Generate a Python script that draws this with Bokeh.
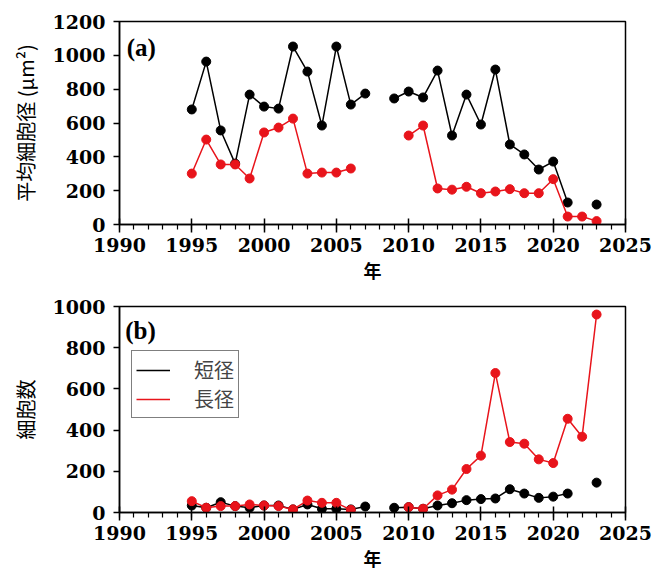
import math
from bokeh.plotting import figure
from bokeh.layouts import column
from bokeh.models import SingleIntervalTicker, Label, Legend, LegendItem, Range1d
from bokeh.embed import file_html
from bokeh.resources import INLINE

nan = float("nan")

years = list(range(1995, 2024))

# (a) mean cell size (μm²)
short_size = [680, 963, 556, 360, 768, 697, 685, 1052, 904, 585, 1052, 709, 774, nan,
              745, 786, 751, 910, 526, 768, 591, 916, 473, 414, 325, 372, 130, nan, 118]
long_size = [301, 502, 355, 355, 272, 544, 573, 626, 301, 307, 307, 331, nan, nan,
             nan, 526, 585, 213, 206, 223, 185, 195, 209, 185, 185, 268, 47, 47, 20]

# (b) cell counts
short_count = [34, 23, 50, 31, 23, 34, 34, 15, 39, 18, 18, 15, 29, nan,
               23, 26, 18, 34, 45, 60, 65, 68, 113, 92, 71, 77, 92, nan, 145]
long_count = [55, 23, 31, 31, 39, 34, 31, 15, 58, 47, 47, 13, nan, nan,
              nan, 26, 18, 83, 111, 211, 276, 677, 342, 334, 258, 240, 455, 368, 961]

x_label = "年"
y_label_a = "平均細胞径 (μm²)"
y_label_b = "細胞数"
legend_labels = ["短径", "長径"]

BLACK = "#000000"
RED = "#e8141b"
CJK = "Noto Sans CJK JP"
TICK_FONT = "DejaVu Serif"


def make_fig(height, ymax, ylabel, top, bottom):
    p = figure(width=658, height=height, output_backend="svg", toolbar_location=None,
               x_range=Range1d(1990, 2025), y_range=Range1d(0, ymax),
               min_border_left=119, min_border_right=33,
               min_border_top=top, min_border_bottom=bottom)
    p.xgrid.visible = False
    p.ygrid.visible = False
    p.outline_line_color = "black"
    p.outline_line_width = 1.5

    xa = p.xaxis[0]
    xa.ticker = SingleIntervalTicker(interval=5, num_minor_ticks=5)
    xa.major_tick_in = 6
    xa.major_tick_out = 8
    xa.minor_tick_in = 0
    xa.minor_tick_out = 5
    xa.axis_line_width = 1.5
    xa.major_tick_line_width = 1.5
    xa.minor_tick_line_width = 1.2
    xa.axis_label = x_label
    xa.axis_label_text_font = CJK
    xa.axis_label_text_font_style = "bold"
    xa.axis_label_text_font_size = "18px"
    xa.axis_label_text_color = "black"
    xa.major_label_standoff = 5
    xa.axis_label_standoff = 2

    ya = p.yaxis[0]
    ya.ticker = SingleIntervalTicker(interval=200, num_minor_ticks=0)
    ya.major_tick_in = 0
    ya.major_tick_out = 6
    ya.minor_tick_out = 0
    ya.axis_line_width = 1.5
    ya.major_tick_line_width = 1.5
    ya.axis_label = ylabel
    ya.axis_label_text_font = CJK
    ya.axis_label_text_font_style = "normal"
    ya.axis_label_text_font_size = "20px"
    ya.axis_label_text_color = "black"
    ya.major_label_standoff = 8
    ya.axis_label_standoff = 10

    for ax in (xa, ya):
        ax.major_label_text_font = TICK_FONT
        ax.major_label_text_font_style = "bold"
        ax.major_label_text_font_size = "19px"
        ax.major_label_text_color = "black"
    return p


# Panel (a)
pa = make_fig(291, 1200, y_label_a, 21, 67)
pa.line(years, short_size, line_color=BLACK, line_width=1.5)
pa.scatter(years, short_size, size=9, fill_color=BLACK, line_color=BLACK)
pa.line(years, long_size, line_color=RED, line_width=1.5)
pa.scatter(years, long_size, size=9, fill_color=RED, line_color=RED)
pa.add_layout(Label(x=1990.5, y=1045, text="(a)", text_font="Liberation Serif", text_font_style="bold",
                    text_font_size="25px", text_baseline="middle", text_color="black"))

# Panel (b)
pb = make_fig(284, 1000, y_label_b, 15, 63)
pb.min_border_left = 117
pb.min_border_right = 32
lb = pb.line(years, short_count, line_color=BLACK, line_width=1.5)
pb.scatter(years, short_count, size=9, fill_color=BLACK, line_color=BLACK)
lr = pb.line(years, long_count, line_color=RED, line_width=1.5)
pb.scatter(years, long_count, size=9, fill_color=RED, line_color=RED)
pb.add_layout(Label(x=1990.4, y=885, text="(b)", text_font="Liberation Serif", text_font_style="bold",
                    text_font_size="25px", text_baseline="middle", text_color="black"))

legend = Legend(items=[LegendItem(label=legend_labels[0], renderers=[lb]),
                       LegendItem(label=legend_labels[1], renderers=[lr])],
                location=(12, 94))
legend.label_text_font = CJK
legend.label_text_font_size = "20px"
legend.glyph_width = 34
legend.glyph_height = 18
legend.label_standoff = 24
legend.label_height = 18
legend.padding = 4
legend.spacing = 0
legend.margin = 0
legend.border_line_color = "black"
legend.border_line_width = 1.5
pb.add_layout(legend)

layout = column(pa, pb, spacing=0)
open("out.html", "w").write(file_html(layout, INLINE))
